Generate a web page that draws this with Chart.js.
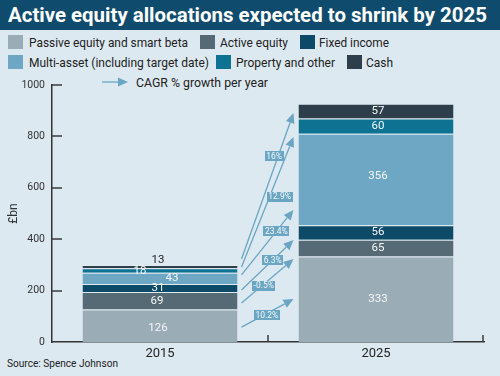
<!DOCTYPE html>
<html><head><meta charset="utf-8">
<script src="https://cdn.jsdelivr.net/npm/chart.js@4.4.1/dist/chart.umd.min.js"></script>
<style>
html,body{margin:0;padding:0;}
body{width:500px;height:376px;background:#dde9f1;position:relative;overflow:hidden;font-family:Roboto,"Liberation Sans",sans-serif;}
#band{position:absolute;left:0;top:0;width:500px;height:30px;background:#0f4b6c;}
.fit{position:absolute;white-space:nowrap;transform-origin:0 50%;line-height:16px;}
#title{left:8px;top:3px;color:#fff;font-weight:bold;font-size:20px;line-height:24px;}
.leg{font-size:13.5px;color:#222;}
.box{position:absolute;width:15px;height:14px;}
#src{left:7px;top:356px;font-size:11px;color:#222;}
#c{position:absolute;left:0;top:0;}
</style></head>
<body>
<div id="band"></div>
<div id="title" class="fit"></div>
<div id="legend"></div>
<div id="src" class="fit"></div>
<canvas id="c" width="500" height="376"></canvas>
<script>
// ---- data ----
const titleText = 'Active equity allocations expected to shrink by 2025';
const sourceText = 'Source: Spence Johnson';
const categories = ['2015', '2025'];
const seriesNames = ['Passive equity and smart beta', 'Active equity', 'Fixed income',
  'Multi-asset (including target date)', 'Property and other', 'Cash'];
const passive = [126, 333];
const activeEq = [69, 65];
const fixedIncome = [31, 56];
const multiAsset = [43, 356];
const property = [18, 60];
const cash = [13, 57];
const yTicks = [0, 200, 400, 600, 800, 1000];
const axisTitle = '£bn';
const cagrLegend = 'CAGR % growth per year';
const cagrLabels = ['10.2%', '-0.5%', '6.3%', '23.4%', '12.9%', '16%'];
const cagrFrom = [58, 152, 202, 261, 292, 323];
const cagrTo = [167, 323, 397, 514, 798, 891];

// ---- styles ----
const colors = ['#9aadb7', '#566a75', '#0c4a68', '#6da7c3', '#0e7392', '#2e3f4b'];
const arrowColor = '#6aa6c4';
const seriesValues = [passive, activeEq, fixedIncome, multiAsset, property, cash];
// legend layout: [boxX, boxY, textX, textTop, textWidth]
const legendLayout = [
  [8, 35, 29, 34, 159], [200, 35, 220, 34, 68], [300, 35, 319, 34, 70],
  [8, 55, 29, 54, 180], [216, 55, 236, 54, 99], [347, 55, 366, 54, 27]
];
// value label offsets per series per category [dx, dy, color]
const labelStyle = [
  [[-2, 2, '#f4f7f9'], [2, 0, '#f4f7f9']],
  [[-3, 0, '#f4f7f9'], [2, 0, '#f4f7f9']],
  [[-2, 0, '#f4f7f9'], [2, 0, '#f4f7f9']],
  [[12, 0, '#f4f7f9'], [2, -3, '#f4f7f9']],
  [[-20, 1, '#f4f7f9'], [2, 0, '#f4f7f9']],
  [[-2, -6, '#222222'], [2, 0, '#f4f7f9']]
];
// CAGR label placement: [t along arrow, dx]
const cagrLabelPos = [[0.43, 3], [0.39, 2], [0.6, 0], [0.67, 0], [0.54, 10], [0.705, -4]];

// ---- HTML text ----
function fitEl(el, w) {
  const cur = el.getBoundingClientRect().width;
  if (cur > 0) el.style.transform = 'scaleX(' + (w / cur) + ')';
}
const t = document.getElementById('title'); t.textContent = titleText; fitEl(t, 479);
const s = document.getElementById('src'); s.textContent = sourceText; fitEl(s, 111);
const lg = document.getElementById('legend');
seriesNames.forEach((n, i) => {
  const [bx, by, tx, ty, tw] = legendLayout[i];
  const b = document.createElement('div'); b.className = 'box';
  b.style.left = bx + 'px'; b.style.top = by + 'px'; b.style.background = colors[i];
  lg.appendChild(b);
  const d = document.createElement('div'); d.className = 'fit leg';
  d.style.left = tx + 'px'; d.style.top = ty + 'px'; d.textContent = n;
  lg.appendChild(d); fitEl(d, tw);
});
const cg = document.createElement('div'); cg.className = 'fit leg';
cg.style.left = '136px'; cg.style.top = '74px'; cg.textContent = cagrLegend;
lg.appendChild(cg); fitEl(cg, 132);

function drawArrow(ctx, xa, ya, xb, yb, hl, hw) {
  const ang = Math.atan2(yb - ya, xb - xa);
  const bx = xb - hl * Math.cos(ang), by = yb - hl * Math.sin(ang);
  ctx.beginPath(); ctx.moveTo(xa, ya); ctx.lineTo(bx, by); ctx.stroke();
  ctx.beginPath(); ctx.moveTo(xb, yb);
  ctx.lineTo(bx + hw * Math.sin(ang), by - hw * Math.cos(ang));
  ctx.lineTo(bx - hw * Math.sin(ang), by + hw * Math.cos(ang));
  ctx.closePath(); ctx.fill();
}

// ---- chart ----
const overlay = {
  id: 'overlay',
  afterDraw(chart) {
    const ctx = chart.ctx, ys = chart.scales.y, xs = chart.scales.x, ca = chart.chartArea;
    ctx.save();
    // inward y ticks
    ctx.strokeStyle = '#3a3a3a'; ctx.lineWidth = 1.5;
    ys.ticks.forEach(tk => {
      if (tk.value === 0) return;
      const py = Math.round(ys.getPixelForValue(tk.value));
      ctx.beginPath(); ctx.moveTo(ca.left, py); ctx.lineTo(ca.left + 10, py); ctx.stroke();
    });
    // x category boundary ticks
    for (let i = 0; i < categories.length; i++) {
      let px = i < categories.length - 1 ? (xs.getPixelForValue(i) + xs.getPixelForValue(i + 1)) / 2 : ca.right - 1;
      px = Math.round(px);
      ctx.beginPath(); ctx.moveTo(px, ca.bottom); ctx.lineTo(px, ca.bottom - 7); ctx.stroke();
    }
    // value labels
    ctx.font = '11.5px Roboto, "Liberation Sans", sans-serif';
    ctx.textAlign = 'center'; ctx.textBaseline = 'middle';
    seriesValues.forEach((vals, di) => {
      const meta = chart.getDatasetMeta(di);
      meta.data.forEach((el, j) => {
        const st = labelStyle[di][j];
        ctx.fillStyle = st[2];
        ctx.fillText(String(vals[j]), el.x + st[0], (el.y + el.base) / 2 + st[1]);
      });
    });
    // CAGR arrows
    const b0 = chart.getDatasetMeta(0).data[0], b1 = chart.getDatasetMeta(0).data[1];
    const x0 = b0.x + b0.width / 2 + 4, x1 = b1.x - b1.width / 2 - 5;
    ctx.strokeStyle = arrowColor; ctx.fillStyle = arrowColor; ctx.lineWidth = 1.3;
    cagrLabels.forEach((lab, k) => {
      drawArrow(ctx, x0, ys.getPixelForValue(cagrFrom[k]), x1, ys.getPixelForValue(cagrTo[k]), 10, 4.5);
    });
    // legend arrow marker
    drawArrow(ctx, 102, 82, 128, 82, 10, 4.5);
    ctx.font = '8.5px Roboto, "Liberation Sans", sans-serif';
    cagrLabels.forEach((lab, k) => {
      const y0 = ys.getPixelForValue(cagrFrom[k]), y1 = ys.getPixelForValue(cagrTo[k]);
      const [tt, dx] = cagrLabelPos[k];
      const lx = x0 + (x1 - x0) * tt + dx, ly = y0 + (y1 - y0) * tt;
      const w = ctx.measureText(lab).width + 3, h = 10;
      ctx.fillStyle = arrowColor;
      ctx.fillRect(Math.round(lx - w / 2), Math.round(ly - h / 2), Math.round(w), h);
      ctx.fillStyle = '#f4f8fb';
      ctx.fillText(lab, lx, ly + 0.5);
    });
    ctx.restore();
  }
};

new Chart(document.getElementById('c'), {
  type: 'bar',
  data: {
    labels: categories,
    datasets: seriesValues.map((v, i) => ({
      label: seriesNames[i], data: v, backgroundColor: colors[i],
      borderColor: 'rgba(225,236,243,0.55)', borderWidth: {top: 1, left: 0, right: 0, bottom: 0},
      borderSkipped: false,
      categoryPercentage: 1, barPercentage: 0.7176
    }))
  },
  options: {
    responsive: false, animation: false, devicePixelRatio: 1,
    layout: {padding: {top: 85, right: 16, left: 0, bottom: 0}},
    plugins: {legend: {display: false}, tooltip: {enabled: false}},
    scales: {
      x: {
        stacked: true,
        grid: {display: false, drawTicks: false},
        border: {display: true, color: '#333', width: 1.5},
        ticks: {padding: 4, color: '#222', font: {family: 'Roboto, "Liberation Sans", sans-serif', size: 13}},
        afterFit(sc) { sc.height = 34; }
      },
      y: {
        stacked: true, min: 0, max: 1000,
        afterBuildTicks(sc) { sc.ticks = yTicks.map(v => ({value: v})); },
        grid: {display: false, drawTicks: false},
        border: {display: true, color: '#333', width: 1.5},
        ticks: {padding: 7, color: '#333', callback: v => String(v),
          font: {family: 'Roboto, "Liberation Sans", sans-serif', size: 10.5}},
        title: {display: true, text: axisTitle, color: '#333', padding: {top: 7, bottom: 0},
          font: {family: 'Roboto, "Liberation Sans", sans-serif', size: 12}},
        afterFit(sc) { sc.width = 52; }
      }
    }
  },
  plugins: [overlay]
});
</script>
</body></html>
